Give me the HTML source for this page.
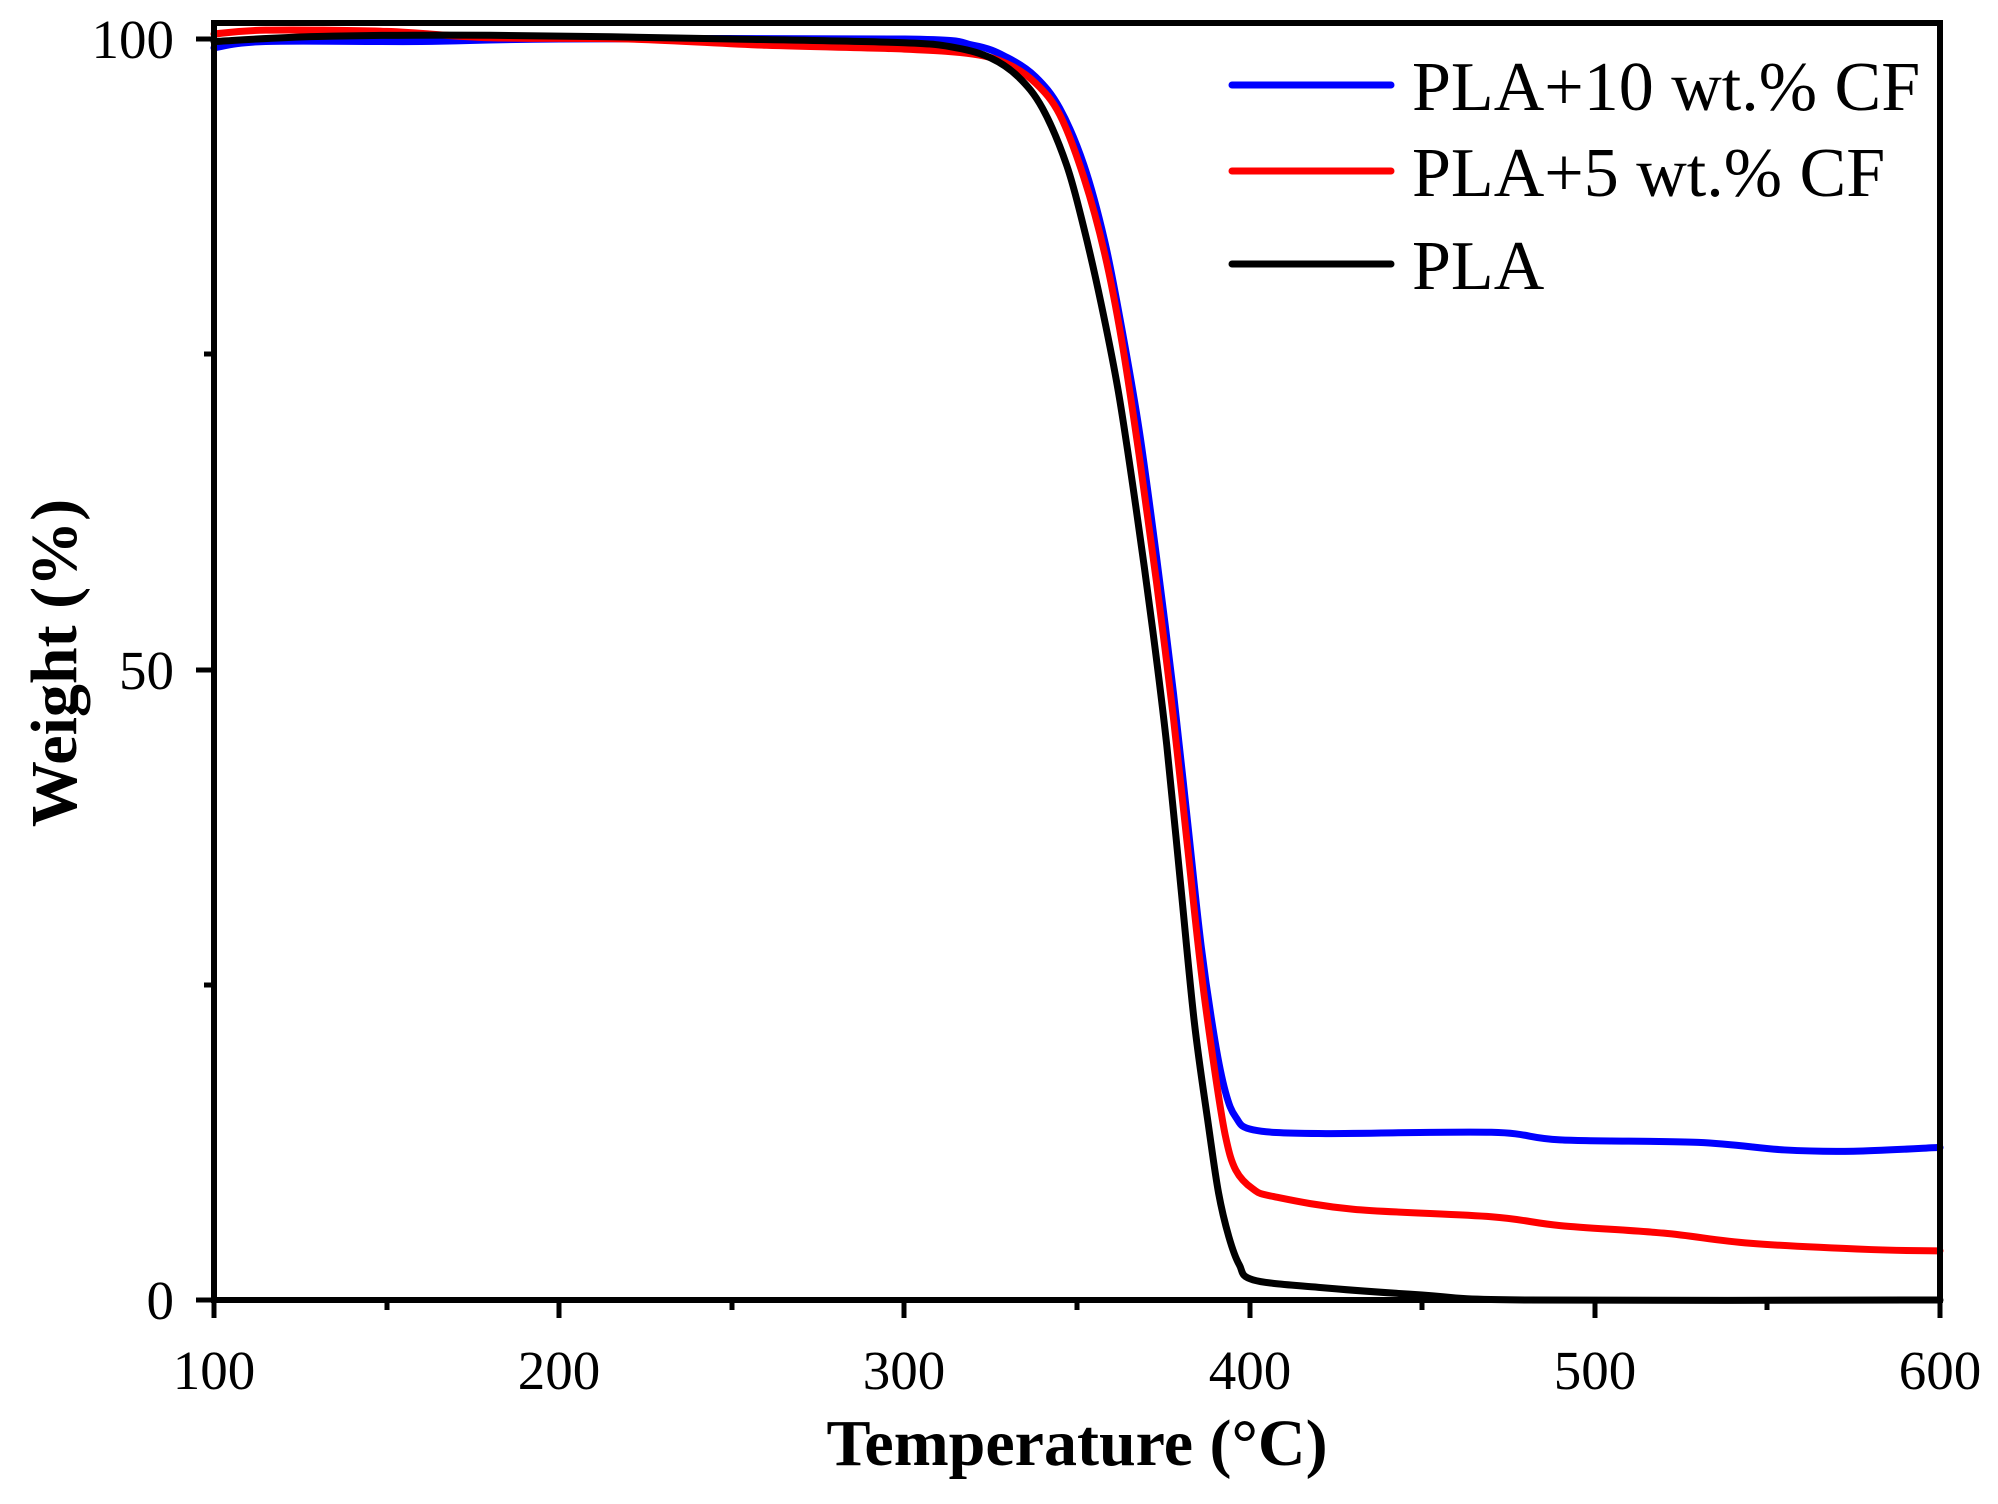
<!DOCTYPE html>
<html><head><meta charset="utf-8"><style>
html,body{margin:0;padding:0;background:#fff;}
svg{display:block;}
text{font-family:"Liberation Serif","Times New Roman",serif;fill:#000;}
</style></head><body>
<svg id="s" width="1998" height="1504" viewBox="0 0 1998 1504" xmlns="http://www.w3.org/2000/svg">
<g id="curves" fill="none" stroke-width="7" stroke-linejoin="round" stroke-linecap="round"></g>
<rect x="214" y="23" width="1726" height="1277" fill="none" stroke="#000" stroke-width="6"/>
<g stroke="#000" stroke-width="5">
<line x1="214" y1="1300" x2="214" y2="1318"/><line x1="387" y1="1300" x2="387" y2="1310"/>
<line x1="559" y1="1300" x2="559" y2="1318"/><line x1="732" y1="1300" x2="732" y2="1310"/>
<line x1="904" y1="1300" x2="904" y2="1318"/><line x1="1077" y1="1300" x2="1077" y2="1310"/>
<line x1="1250" y1="1300" x2="1250" y2="1318"/><line x1="1422" y1="1300" x2="1422" y2="1310"/>
<line x1="1595" y1="1300" x2="1595" y2="1318"/><line x1="1767" y1="1300" x2="1767" y2="1310"/>
<line x1="1940" y1="1300" x2="1940" y2="1318"/>
<line x1="196" y1="39" x2="214" y2="39"/><line x1="204" y1="354" x2="214" y2="354"/>
<line x1="196" y1="670" x2="214" y2="670"/><line x1="204" y1="985" x2="214" y2="985"/>
<line x1="196" y1="1300" x2="214" y2="1300"/>
</g>
<g font-size="55" text-anchor="middle">
<text x="214" y="1389">100</text><text x="559" y="1389">200</text><text x="904" y="1389">300</text>
<text x="1250" y="1389">400</text><text x="1595" y="1389">500</text><text x="1940" y="1389">600</text>
</g>
<g font-size="55" text-anchor="end">
<text x="174" y="58">100</text><text x="174" y="689">50</text><text x="174" y="1319">0</text>
</g>
<text x="1077" y="1465" font-size="66" font-weight="bold" text-anchor="middle">Temperature (°C)</text>
<text transform="translate(76,663) rotate(-90)" font-size="66" font-weight="bold" text-anchor="middle">Weight (%)</text>
<g stroke-width="7" stroke-linecap="round">
<line x1="1232" y1="85" x2="1391" y2="85" stroke="#00f"/>
<line x1="1232" y1="171" x2="1391" y2="171" stroke="#f00"/>
<line x1="1232" y1="264" x2="1391" y2="264" stroke="#000"/>
</g>
<g font-size="70">
<text x="1412" y="110">PLA+10 wt.% CF</text>
<text x="1412" y="196">PLA+5 wt.% CF</text>
<text x="1412" y="289">PLA</text>
</g>
</svg>
<script>
function X(t){return 214+(t-100)*3.452;}
function Y(w){return 1300-w*12.61;}
var data={
"#000":[[100,99.8],[130,100.2],[180,100.3],[250,100],[300,99.7],[315,99.3],[325,98.5],[333,97],[340,94.5],[347,90],[352,85],[357,79],[362,72],[367,63],[372,53],[376,44],[380,33],[384,22],[388,14],[391,8.5],[394,5],[397,2.8],[401,1.6],[420,1.0],[450,0.4],[480,0],[600,0]],
"#f00":[[100,100.4],[115,100.7],[150,100.6],[180,100.1],[220,100],[260,99.5],[300,99.2],[320,98.8],[330,98],[338,96.5],[345,94],[352,89],[358,83],[363,76],[368,67],[373,57],[378,46],[382,36],[386,26],[390,18],[393,13],[396,10.3],[401,8.8],[407,8.2],[430,7.2],[470,6.6],[490,5.9],[520,5.3],[545,4.5],[580,4.0],[600,3.9]],
"#00f":[[100,99.3],[115,99.8],[160,99.8],[200,100],[300,100],[320,99.5],[330,98.5],[338,97],[345,94.5],[352,90],[358,84],[363,77],[368,69],[373,59],[378,48],[382,38],[386,28],[390,20.5],[393,16.5],[396,14.5],[401,13.5],[420,13.2],[470,13.3],[490,12.7],[530,12.5],[555,11.9],[575,11.8],[600,12.1]]
};
var g=document.getElementById('curves');
["#00f","#f00","#000"].forEach(function(c){
 var p=data[c].map(function(d){return [X(d[0]),Y(d[1])];});
 var s="M"+p[0][0]+","+p[0][1];
 for(var i=0;i<p.length-1;i++){
  var p0=p[Math.max(i-1,0)],p1=p[i],p2=p[i+1],p3=p[Math.min(i+2,p.length-1)];
  var c1=[p1[0]+(p2[0]-p0[0])/6,p1[1]+(p2[1]-p0[1])/6];
  var c2=[p2[0]-(p3[0]-p1[0])/6,p2[1]-(p3[1]-p1[1])/6];
  s+=" C"+c1[0]+","+c1[1]+" "+c2[0]+","+c2[1]+" "+p2[0]+","+p2[1];
 }
 var e=document.createElementNS("http://www.w3.org/2000/svg","path");
 e.setAttribute("d",s);e.setAttribute("stroke",c);g.appendChild(e);
});
</script>
</body></html>
